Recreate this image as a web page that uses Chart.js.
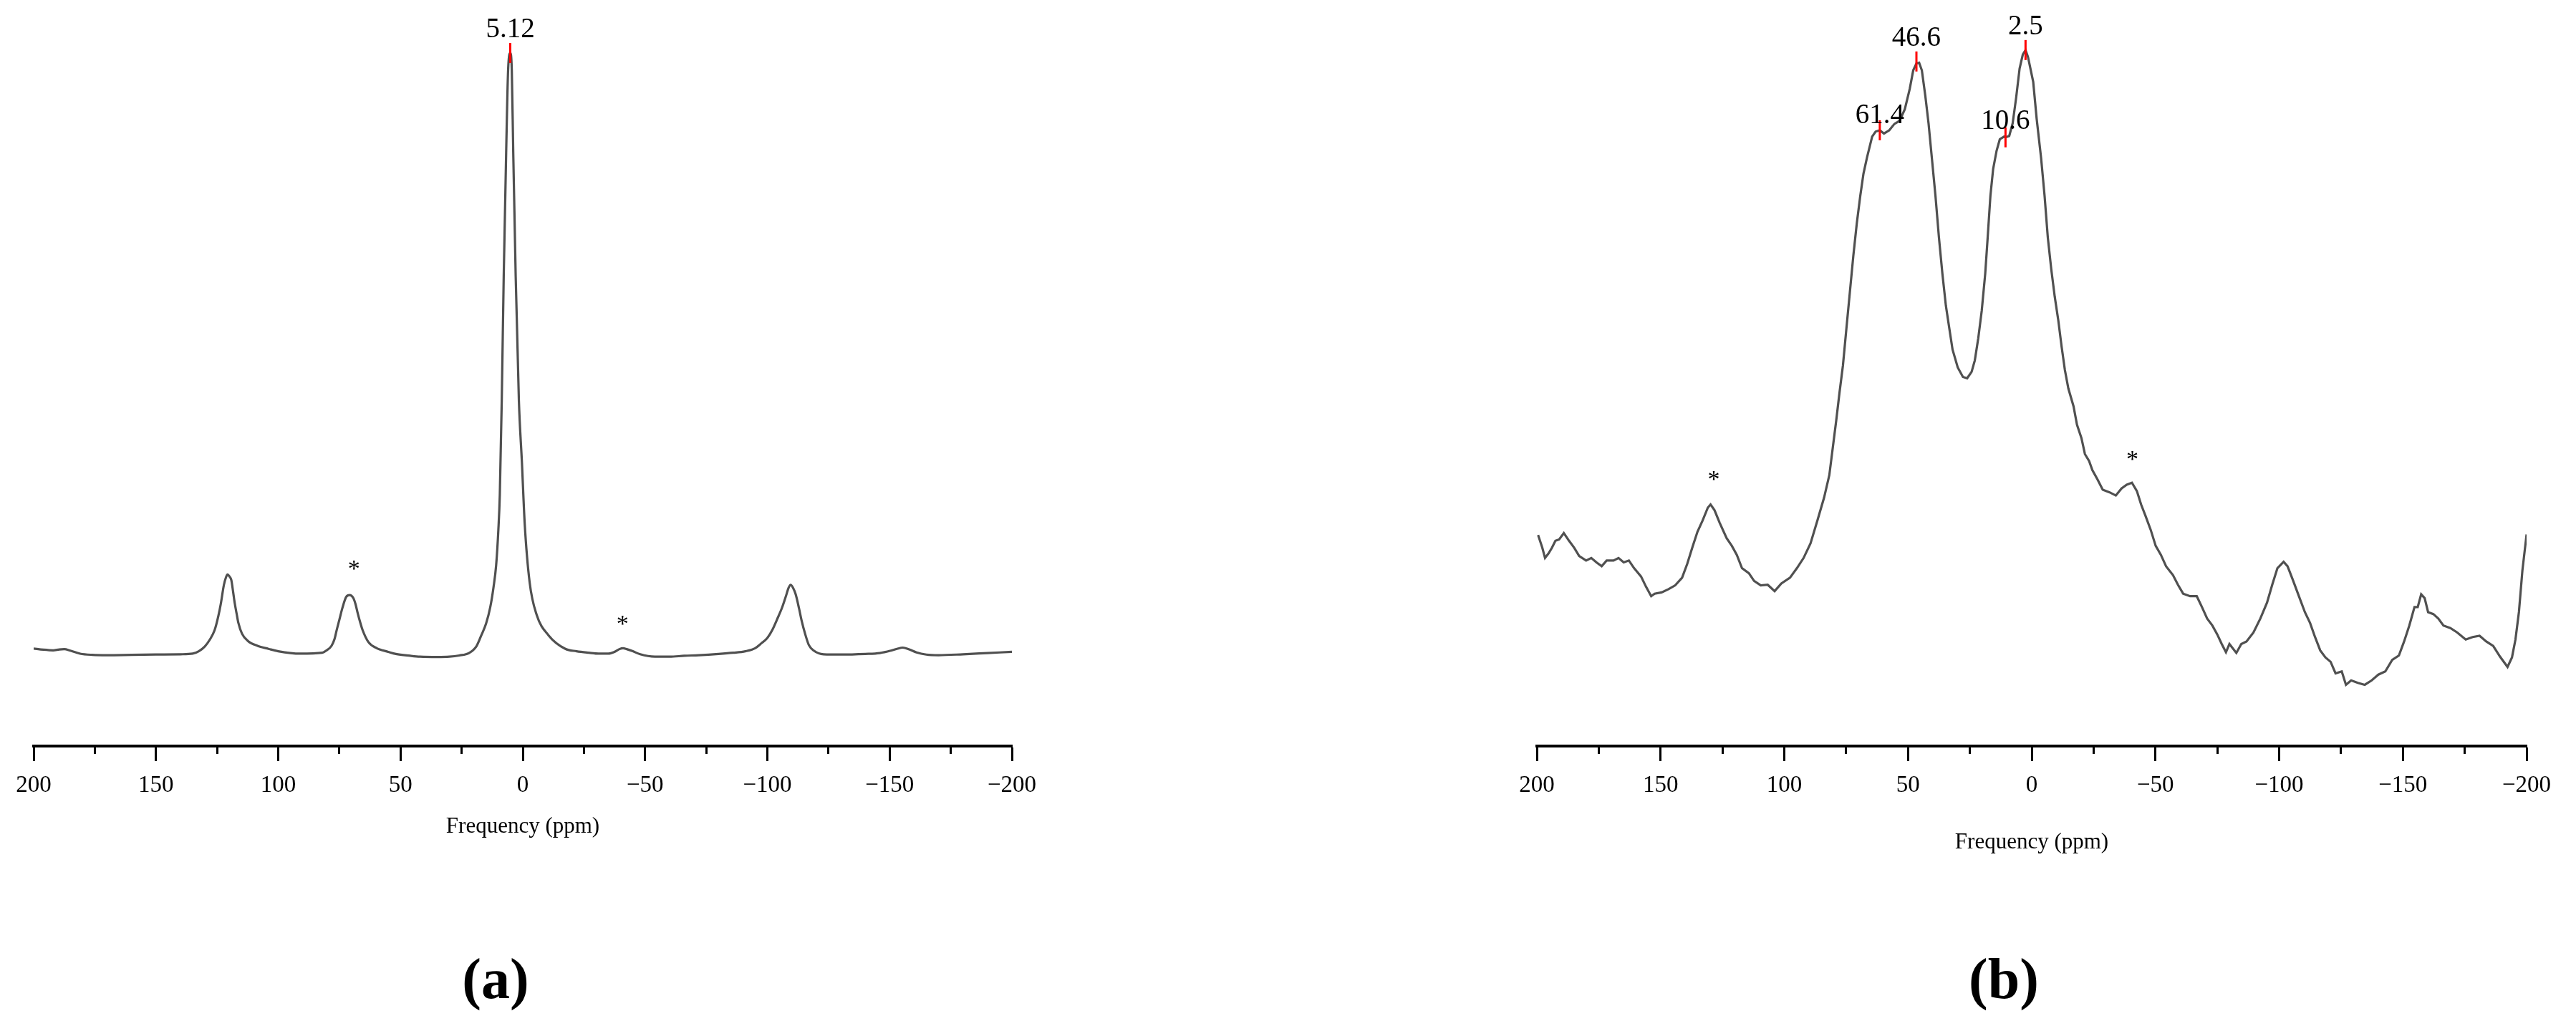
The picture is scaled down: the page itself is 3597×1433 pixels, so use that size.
<!DOCTYPE html>
<html>
<head>
<meta charset="utf-8">
<script src="https://cdn.jsdelivr.net/npm/chart.js@4.4.1/dist/chart.umd.min.js"></script>
<style>
  body { margin: 0; background: #fff; }
  #page { position: relative; width: 3597px; height: 1433px; overflow: hidden; }
  canvas { position: absolute; top: 0; }
  .tag { position: absolute; font: bold 80px "Liberation Serif", serif; line-height: 80px; transform: translateX(-50%); color: #000; }
</style>
</head>
<body>
<div id="page">
  <canvas id="chartA" width="1800" height="1433" style="left:0"></canvas>
  <canvas id="chartB" width="1797" height="1433" style="left:1800px"></canvas>
  <div class="tag" style="left:692px; top:1327px">(a)</div>
  <div class="tag" style="left:2798px; top:1327px">(b)</div>
</div>
<script>
// axis ticks (ppm)
var majorTicks = [200, 150, 100, 50, 0, -50, -100, -150, -200];
var minorTicks = [175, 125, 75, 25, -25, -75, -125, -175];

// (a) spectrum
var shiftA = [200, 196, 192, 189.5, 187.5, 185, 181, 176, 170, 160, 150, 140, 135, 132.5, 130, 128, 126, 124.5, 123.5, 122.2,
  121.3, 120.7, 120, 119.2, 118.5, 117.8, 117, 116.3, 114.8, 112.4, 108.5, 104, 100, 91, 82, 80, 78.2, 77, 76.1, 75,
  73.8, 72.2, 70.8, 69.3, 68.4, 67.5, 66.5, 65.5, 63.1, 59.7, 55, 51.9, 46, 42, 35, 30, 26, 22, 19, 17,
  15, 13.3, 12, 10.9, 10, 9.4, 8.6, 7.8, 6.8, 6, 5.12, 4.5, 3.9, 2.9, 1.6, 0.35, -0.8, -2.8, -5.7, -10.6,
  -17.4, -22, -27, -31, -35, -37.5, -39.5, -41, -42.5, -45, -48, -54, -60, -66, -72, -80, -86, -91, -95, -97.5,
  -100, -102, -104, -106, -107.5, -108.7, -109.5, -110.5, -111.6, -113, -114, -115.5, -117, -119, -123, -130, -140, -146, -150.5, -153,
  -155.4, -158, -161, -165, -170, -180, -190, -200];
var intensityA = [1.45, 1.25, 1.15, 1.3, 1.35, 1.1, 0.6, 0.4, 0.35, 0.4, 0.45, 0.5, 0.6, 1.0, 1.8, 2.9, 4.5, 6.8, 8.8, 12.0,
  13.3, 13.7, 13.4, 12.8, 11.0, 9.0, 7.2, 5.7, 3.9, 2.7, 1.9, 1.4, 1.0, 0.6, 0.75, 1.2, 1.9, 3.0, 4.5, 6.2,
  8.1, 10.0, 10.3, 9.8, 8.8, 7.3, 5.8, 4.5, 2.5, 1.5, 0.9, 0.55, 0.25, 0.1, 0.05, 0.1, 0.3, 0.7, 1.8, 3.6,
  5.6, 8.3, 11.5, 15.2, 21, 26.8, 42.5, 63, 83.5, 97.2, 100, 97.2, 83.5, 63, 42.5, 32.2, 22, 12.4, 7, 3.6,
  1.4, 1.0, 0.75, 0.6, 0.6, 0.9, 1.35, 1.5, 1.35, 1.0, 0.5, 0.1, 0.1, 0.25, 0.35, 0.55, 0.75, 1.0, 1.5, 2.3,
  3.2, 4.5, 6.3, 8.2, 10.0, 11.5, 12.0, 11.5, 10.4, 8.0, 6.1, 3.8, 2.0, 1.1, 0.5, 0.45, 0.55, 0.7, 1.1, 1.4,
  1.6, 1.3, 0.8, 0.45, 0.35, 0.5, 0.7, 0.9];
var peakShiftA = [5.12];
var peakHeightA = [100];
var starShiftA = [69, -40.8];
var starHeightA = [15.3, 6.2];

// (b) spectrum
var shiftB = [199.5, 197.8, 196.7, 195.3, 193.9, 192.5, 191, 189.1, 187, 184.9, 182.9, 180.1, 178, 175.9, 173.8, 171.8, 169, 167, 164.9, 162.8,
  160.7, 157.9, 155.9, 153.8, 152.4, 149.6, 146.8, 144.1, 141.3, 139.2, 137.2, 135.1, 133, 130.9, 129.8, 128.2, 126.1, 123.3, 121.2, 119.2,
  117.1, 114.3, 112.2, 109.5, 106.7, 103.9, 101.2, 97.7, 94.9, 92.2, 89.4, 86.6, 83.9, 81.8, 80.4, 79, 77.7, 76.3, 74.9, 73.5,
  72.1, 70.7, 69.3, 68, 66.6, 64.5, 63.1, 61.4, 59.7, 57.6, 55.5, 53.4, 51.3, 49.3, 47.9, 46.6, 45.5, 44.4, 43, 41.7,
  40.3, 38.9, 37.5, 36.1, 34.7, 33.3, 32, 29.9, 27.8, 26.1, 24.3, 23, 21.6, 20.2, 18.8, 17.8, 16.7, 15.6, 14.2, 12.9,
  11.2, 10.6, 9.1, 7.7, 6.3, 4.9, 3.6, 2.5, 1.5, -0.6, -2, -3.8, -5.2, -6.5, -7.9, -9.3, -10.7, -12.1, -13.4, -14.8,
  -16.9, -18.3, -20.1, -21.5, -23.2, -24.5, -26.6, -28.7, -31.5, -34, -36.3, -38.4, -40.5, -42.5, -44.2, -46, -48.1, -50.1, -52.2, -54.3,
  -57.1, -59.1, -61.2, -64, -66.7, -68.8, -70.9, -73, -75, -76.8, -78.5, -79.9, -82.7, -84.7, -86.8, -89.6, -92.4, -95.1, -97.2, -99.3,
  -101.8, -103.4, -105.5, -107.6, -110.4, -112.5, -114.5, -116.6, -118.7, -120.8, -122.8, -125.3, -127, -129.1, -131.8, -134.6, -137.4, -140.1, -142.9, -145.7,
  -148.4, -150.5, -152.6, -154.7, -156, -157.4, -158.8, -160.2, -162.3, -164.3, -166.4, -169.2, -172, -175.4, -178.2, -181, -183.7, -186.5, -189.3, -192.3,
  -194.1, -195.5, -196.9, -198.3, -200];
var intensityB = [23.9, 21.9, 20.3, 21.0, 21.9, 23.0, 23.2, 24.2, 23.0, 21.9, 20.6, 19.9, 20.3, 19.6, 19.0, 19.9, 19.9, 20.3, 19.6, 19.9,
  18.7, 17.4, 15.8, 14.3, 14.7, 14.9, 15.4, 16.0, 17.2, 19.4, 21.9, 24.4, 26.2, 28.2, 28.7, 27.8, 25.8, 23.4, 22.2, 20.8,
  18.7, 17.9, 16.7, 16.0, 16.1, 15.1, 16.3, 17.2, 18.7, 20.3, 22.6, 26.2, 29.8, 33.3, 37.6, 41.9, 46.2, 50.5, 56.3, 62.0,
  67.7, 72.8, 77.1, 80.6, 83.1, 86.4, 87.2, 87.4, 86.9, 87.4, 88.4, 88.9, 90.7, 93.9, 96.8, 97.9, 98.0, 96.8, 92.8, 88.5,
  82.8, 77.1, 70.6, 64.9, 59.9, 56.3, 53.0, 50.2, 48.7, 48.5, 49.5, 51.3, 54.8, 59.1, 64.9, 70.6, 77.1, 81.3, 84.2, 86.0,
  86.4, 86.3, 86.5, 88.5, 92.5, 97.1, 99.3, 100, 98.9, 95.0, 89.2, 83.0, 77.1, 70.6, 65.6, 61.3, 57.7, 53.4, 49.8, 46.9,
  44.1, 41.2, 39.1, 36.6, 35.5, 34.1, 32.6, 31.0, 30.6, 30.1, 31.2, 31.8, 32.1, 30.8, 28.7, 26.9, 24.7, 22.2, 20.8, 19.0,
  17.6, 16.1, 14.7, 14.3, 14.3, 12.6, 10.8, 9.7, 8.3, 6.8, 5.5, 6.8, 5.4, 6.8, 7.2, 8.6, 10.8, 13.3, 16.1, 18.7,
  19.7, 19.0, 16.9, 14.7, 11.8, 10.1, 7.9, 5.8, 4.7, 4.0, 2.2, 2.5, 0.4, 1.1, 0.7, 0.4, 1.1, 2.0, 2.5, 4.3,
  5.0, 7.2, 9.7, 12.6, 12.6, 14.6, 14.0, 11.8, 11.5, 10.8, 9.7, 9.3, 8.6, 7.5, 7.9, 8.1, 7.2, 6.5, 4.8, 3.2,
  4.7, 7.5, 11.8, 18.3, 24.0];
var peakShiftB = [61.4, 46.6, 10.6, 2.5];
var peakHeightB = [87.4, 98.2, 86.3, 100];
var starShiftB = [128.5, -40.7];
var starHeightB = [33.2, 36.4];

var serif = '"Liberation Serif", "Times New Roman", serif';

var markPlugin = {
  id: 'marks',
  afterDatasetsDraw: function (chart, args, opts) {
    var ctx = chart.ctx, x = chart.scales.x, y = chart.scales.y;
    ctx.save();
    ctx.fillStyle = '#000';
    ctx.textAlign = 'center';
    ctx.textBaseline = 'alphabetic';
    ctx.font = '39px ' + serif;
    opts.peaks.forEach(function (s, i) {
      var py = y.getPixelForValue(opts.heights[i]) - 14 - opts.gaps[i];
      ctx.fillText(String(s), x.getPixelForValue(s), py);
    });
    ctx.font = '34px ' + serif;
    opts.stars.forEach(function (s, i) {
      ctx.fillText('*', x.getPixelForValue(s), y.getPixelForValue(opts.starHeights[i]) + 16);
    });
    ctx.restore();
  }
};

function pts(xs, ys) {
  return xs.map(function (v, i) { return {x: v, y: ys[i]}; });
}

function makeChart(id, o) {
  return new Chart(document.getElementById(id), {
    type: 'line',
    data: {
      datasets: [
        {
          type: 'scatter',
          data: pts(o.peaks, o.heights),
          pointStyle: 'line',
          rotation: 90,
          pointRadius: 14,
          borderColor: '#ff0000',
          borderWidth: 3
        },
        {
          data: pts(o.shift, o.intensity),
          borderColor: '#505050',
          borderWidth: 3.2,
          pointRadius: 0,
          fill: false,
          tension: o.smooth ? 0.4 : 0,
          cubicInterpolationMode: o.smooth ? 'monotone' : 'default'
        }
      ]
    },
    options: {
      responsive: false,
      animation: false,
      devicePixelRatio: 1,
      layout: { padding: o.padding },
      plugins: {
        legend: { display: false },
        tooltip: { enabled: false },
        marks: { peaks: o.peaks, heights: o.heights, gaps: o.gaps, stars: o.stars, starHeights: o.starHeights }
      },
      scales: {
        x: {
          type: 'linear',
          reverse: true,
          min: -200,
          max: 200,
          afterBuildTicks: function (s) {
            s.ticks = majorTicks.concat(minorTicks).sort(function (a, b) { return a - b; })
              .map(function (v) { return {value: v}; });
          },
          afterFit: function (s) { s.height = o.axisHeight; },
          border: { display: true, color: '#000', width: 4 },
          grid: {
            drawOnChartArea: false,
            drawTicks: true,
            tickLength: 21,
            tickWidth: 3,
            tickColor: '#000',
            tickBorderDash: function (c) {
              return c.tick && minorTicks.indexOf(c.tick.value) >= 0 ? [9, 40] : [];
            }
          },
          ticks: {
            autoSkip: false,
            maxRotation: 0,
            padding: 15,
            color: '#000',
            font: { family: serif, size: 33 },
            callback: function (v) {
              if (majorTicks.indexOf(v) < 0) return '';
              return v < 0 ? '\u2212' + Math.abs(v) : String(v);
            }
          },
          title: {
            display: true,
            text: 'Frequency (ppm)',
            color: '#000',
            font: { family: serif, size: 31 },
            padding: 0
          }
        },
        y: { display: false, min: o.yMin, max: o.yMax }
      }
    },
    plugins: [markPlugin]
  });
}

makeChart('chartA', {
  shift: shiftA, intensity: intensityA, smooth: true,
  peaks: peakShiftA, heights: peakHeightA, gaps: [8],
  stars: starShiftA, starHeights: starHeightA,
  yMin: -14.69, yMax: 106.4, axisHeight: 131,
  padding: { left: 47, right: 387, top: 20, bottom: 260 }
});

makeChart('chartB', {
  shift: shiftB, intensity: intensityB, smooth: false,
  peaks: peakShiftB, heights: peakHeightB, gaps: [-4, 8, -2, 8],
  stars: starShiftB, starHeights: starHeightB,
  yMin: -9.21, yMax: 105.6, axisHeight: 153,
  padding: { left: 346, right: 69, top: 20, bottom: 238 }
});
</script>
</body>
</html>
